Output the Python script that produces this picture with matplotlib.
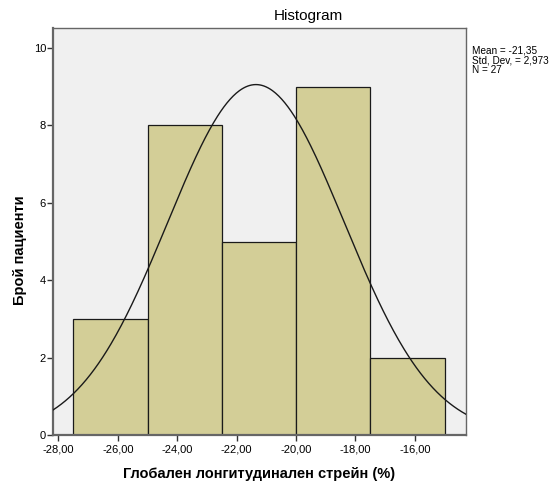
import numpy as np
import matplotlib.pyplot as plt

plt.rcParams['font.family'] = ['Liberation Sans', 'DejaVu Sans']

# данни от хистограмата
bin_edges = [-27.5, -25.0, -22.5, -20.0, -17.5, -15.0]
counts = [3, 8, 5, 9, 2]
mean = -21.35
std = 2.973
n = 27
x_ticks = [-28, -26, -24, -22, -20, -18, -16]
y_ticks = [0, 2, 4, 6, 8, 10]


def main():
    fig = plt.figure(figsize=(5.57, 4.82), dpi=100)
    ax = fig.add_axes([0.0952, 0.0975, 0.7414, 0.8444])
    ax.set_facecolor('#F0F0F0')

    widths = np.diff(bin_edges)
    ax.bar(bin_edges[:-1], counts, width=widths, align='edge',
           color='#D3CE97', edgecolor='#1a1a1a', linewidth=0.9, zorder=2)

    # нормална крива
    xs = np.linspace(-28.18, -14.28, 400)
    bw = widths[0]
    ys = n * bw / (std * np.sqrt(2 * np.pi)) * np.exp(-0.5 * ((xs - mean) / std) ** 2)
    ax.plot(xs, ys, color='#1a1a1a', linewidth=1.0, zorder=3)

    ax.set_xlim(-28.18, -14.28)
    ax.set_ylim(0, 10.52)
    ax.set_xticks(x_ticks)
    ax.set_xticklabels([f'{t:.2f}'.replace('.', ',') for t in x_ticks])
    ax.set_yticks(y_ticks)
    ax.tick_params(axis='both', labelsize=8, length=4, width=1, color='#333333')
    ax.tick_params(axis='x', pad=3)
    ax.tick_params(axis='y', pad=1)
    for s in ax.spines.values():
        s.set_color('#666666')
        s.set_linewidth(1.0)
    ax.spines['left'].set_linewidth(1.6)
    ax.spines['bottom'].set_linewidth(1.6)

    fig.text(0.553, 0.966, 'Histogram', ha='center', va='center', fontsize=11)
    ax.set_xlabel('Глобален лонгитудинален стрейн (%)', fontsize=10.5,
                  fontweight='bold', labelpad=9)
    fig.text(0.036, 0.48, 'Брой пациенти', rotation=90, ha='center', va='center',
             fontsize=10.5, fontweight='bold')

    fig.text(0.847, 0.875, f'Mean = {mean:.2f}'.replace('.', ',') + '\n'
             + f'Std. Dev. = {std:.3f}'.replace('.', ',') + f'\nN = {n}',
             ha='left', va='center', fontsize=7.2, linespacing=0.92)

    fig.savefig('out.png', dpi=100)


if __name__ == '__main__':
    main()
